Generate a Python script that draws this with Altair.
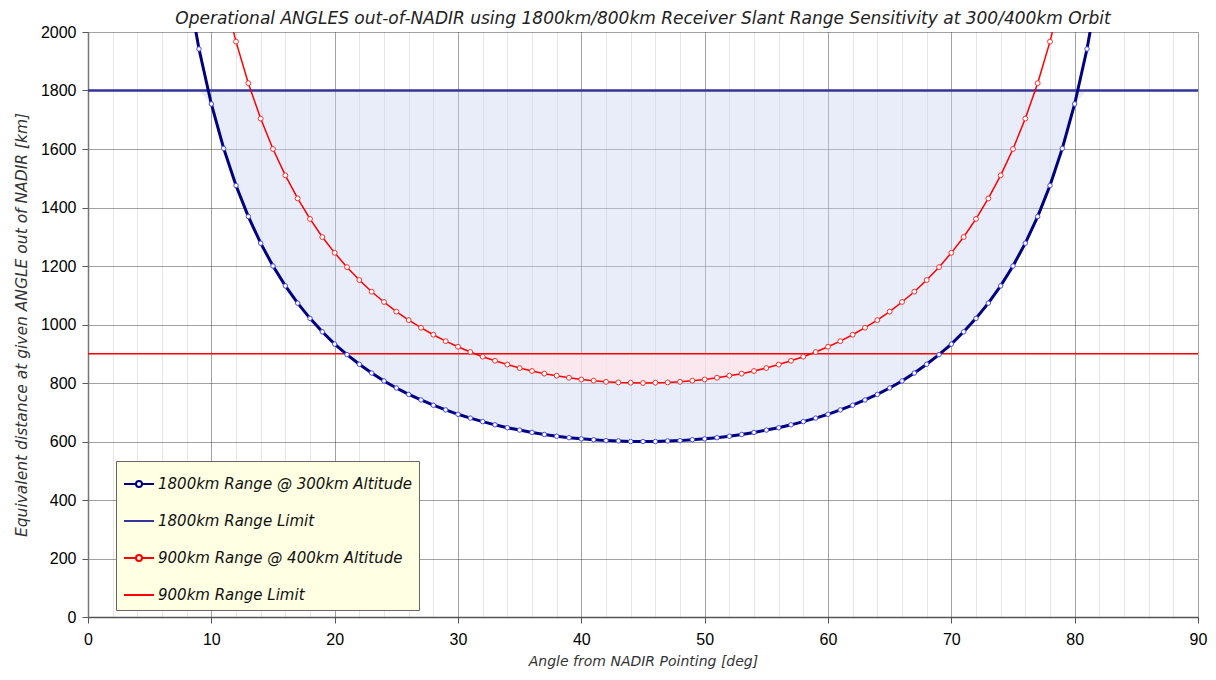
import altair as alt
import pandas as pd

# ---- data ----
angles_blue = list(range(8, 83))
range_1800_at_300 = [
    2177, 1942, 1754, 1602, 1475, 1369, 1278, 1200, 1132, 1073,
    1021, 975, 933, 897, 864, 834, 807, 783, 761, 742,
    724, 708, 693, 680, 668, 657, 647, 639, 631, 624,
    618, 613, 609, 606, 603, 602, 600, 600,
    600, 602, 603, 606, 609, 613, 618, 624, 631, 639,
    647, 657, 668, 680, 693, 708, 724, 742, 761, 783,
    807, 834, 864, 897, 933, 975, 1021, 1073, 1132, 1200,
    1278, 1369, 1475, 1602, 1754, 1942, 2177,
]
angles_red = list(range(11, 80))
range_900_at_400 = [
    2136, 1967, 1825, 1704, 1600, 1510, 1431, 1361, 1299, 1245,
    1196, 1152, 1112, 1077, 1044, 1015, 989, 965, 943, 924,
    906, 890, 876, 863, 851, 841, 832, 825, 818, 812,
    808, 804, 802, 801, 800,
    801, 802, 804, 808, 812, 818, 825, 832, 841, 851,
    863, 876, 890, 906, 924, 943, 965, 989, 1015, 1044,
    1077, 1112, 1152, 1196, 1245, 1299, 1361, 1431, 1510, 1600,
    1704, 1825, 1967, 2136,
]
limit_blue = 1800
limit_red = 900

series_names = [
    "1800km Range @ 300km Altitude",
    "1800km Range Limit",
    "900km Range @ 400km Altitude",
    "900km Range Limit",
]
series_colors = ["#000080", "#333399", "#FF0000", "#FF0000"]
x_tick_values = list(range(0, 91, 2))
y_tick_values = list(range(0, 2001, 50))

title_text = ("Operational ANGLES out-of-NADIR using 1800km/800km Receiver "
              "Slant Range Sensitivity at 300/400km Orbit")
x_title = "Angle from NADIR Pointing [deg]"
y_title = "Equivalent distance at given ANGLE out of NADIR [km]"

# ---- tables ----
blue_df = pd.DataFrame({"angle": angles_blue, "km": range_1800_at_300})
red_df = pd.DataFrame({"angle": angles_red, "km": range_900_at_400})
blue_lim_df = pd.DataFrame({"km": [limit_blue]})
red_lim_df = pd.DataFrame({"km": [limit_red]})
legend_df = pd.DataFrame({"series": series_names})

AXIS_FONT = "Liberation Sans"
TXT_FONT = "DejaVu Sans"

x_axis = alt.Axis(
    values=x_tick_values,
    labelExpr="datum.value % 10 === 0 ? datum.label : ''",
    gridColor={"condition": {"test": "datum.value % 10 === 0", "value": "#444444"},
               "value": "#cccccc"},
    gridDash=[1, 1],
    tickSize={"condition": {"test": "datum.value % 10 === 0", "value": 6}, "value": 0},
    tickColor="#555555",
    domainColor="#555555",
    domainWidth=1.5,
    labelFont=AXIS_FONT,
    labelFontSize=16,
    labelColor="#000000",
    labelPadding=8,
    labelFlush=False,
    titleFont=TXT_FONT,
    titleFontStyle="italic",
    titleFontWeight="normal",
    titleFontSize=14,
    titleColor="#333333",
    titlePadding=7,
)
y_axis = alt.Axis(
    values=y_tick_values,
    labelExpr="datum.value % 200 === 0 ? datum.label : ''",
    gridColor={"condition": {"test": "datum.value % 200 === 0", "value": "#444444"},
               "value": "#cccccc"},
    gridDash=[1, 1],
    tickSize={"condition": {"test": "datum.value % 200 === 0", "value": 6}, "value": 0},
    tickColor="#555555",
    domainColor="#777777",
    domainWidth=1.5,
    labelFont=AXIS_FONT,
    labelFontSize=16,
    labelColor="#000000",
    labelPadding=6,
    labelFlush=False,
    format="d",
    titleFont=TXT_FONT,
    titleFontStyle="italic",
    titleFontWeight="normal",
    titleFontSize=15.5,
    titleColor="#333333",
    titlePadding=11,
)

x_enc = alt.X("angle:Q", scale=alt.Scale(domain=[0, 90], nice=False), axis=x_axis, title=x_title)
y_enc = alt.Y("km:Q", scale=alt.Scale(domain=[0, 2000], nice=False), axis=y_axis, title=y_title)

blue_fill = (
    alt.Chart(blue_df)
    .transform_calculate(lo=f"min(datum.km, {limit_blue})", hi=f"{limit_blue}")
    .mark_area(color="#CBD5F3", opacity=0.42, clip=True)
    .encode(x=x_enc, y=alt.Y("lo:Q"), y2=alt.Y2("hi:Q"))
)
red_fill = (
    alt.Chart(red_df)
    .transform_calculate(lo=f"min(datum.km, {limit_red})", hi=f"{limit_red}")
    .mark_area(color="#FFE6EA", opacity=0.75, clip=True)
    .encode(x=x_enc, y=alt.Y("lo:Q"), y2=alt.Y2("hi:Q"))
)

blue_rule = alt.Chart(blue_lim_df).mark_rule(color="#333399", strokeWidth=2.5).encode(y=alt.Y("km:Q"))
red_rule = alt.Chart(red_lim_df).mark_rule(color="#FF0000", strokeWidth=1.5).encode(y=alt.Y("km:Q"))

blue_line = alt.Chart(blue_df).mark_line(color="#000080", strokeWidth=3, clip=True).encode(x=x_enc, y=y_enc)
red_line = alt.Chart(red_df).mark_line(color="#FF0000", strokeWidth=1.5, clip=True).encode(x=x_enc, y=y_enc)

blue_pts = alt.Chart(blue_df).mark_point(
    shape="circle", filled=True, fill="white", stroke="#4A4AFF", strokeWidth=1,
    size=20, opacity=1, clip=True
).encode(x=x_enc, y=y_enc)
red_pts = alt.Chart(red_df).mark_point(
    shape="circle", filled=True, fill="white", stroke="#FF3030", strokeWidth=1,
    size=24, opacity=1, clip=True
).encode(x=x_enc, y=y_enc)

curve_sym = "M-1,0H-0.2M0.2,0H1M-0.2,0A0.2,0.2 0 1,1 0.2,0A0.2,0.2 0 1,1 -0.2,0"
line_sym = "M-1,0H1"

legend_def = alt.Legend(
    orient="none", legendX=28, legendY=429, title=None,
    fillColor="#FFFFE3", strokeColor="#666666", padding=7,
    rowPadding=13, labelFont=TXT_FONT, labelFontStyle="italic",
    labelFontSize=15, labelColor="#111111", labelLimit=0, labelOffset=3,
    symbolSize=900, symbolStrokeWidth=2,
)
legend_layer = (
    alt.Chart(legend_df)
    .transform_filter("false")
    .mark_point(filled=False, opacity=1)
    .encode(
        color=alt.Color("series:N", scale=alt.Scale(domain=series_names, range=series_colors),
                        legend=legend_def),
        shape=alt.Shape("series:N", scale=alt.Scale(domain=series_names,
                                                     range=[curve_sym, line_sym, curve_sym, line_sym]),
                        legend=legend_def),
    )
)

chart = (
    alt.layer(blue_fill, red_fill, blue_rule, red_rule, blue_line, red_line,
              blue_pts, red_pts, legend_layer)
    .properties(
        width=1110, height=585,
        autosize=alt.AutoSizeParams(type="none"),
        padding={"left": 80, "top": 24, "right": 10, "bottom": 54},
        title=alt.TitleParams(text=title_text, font=TXT_FONT, fontSize=17,
                              fontStyle="italic", fontWeight="normal",
                              color="#222222", anchor="middle", offset=-4),
    )
    .configure_view(stroke=None)
)

chart.save("out.html", embed_options={"renderer": "svg", "actions": False})
